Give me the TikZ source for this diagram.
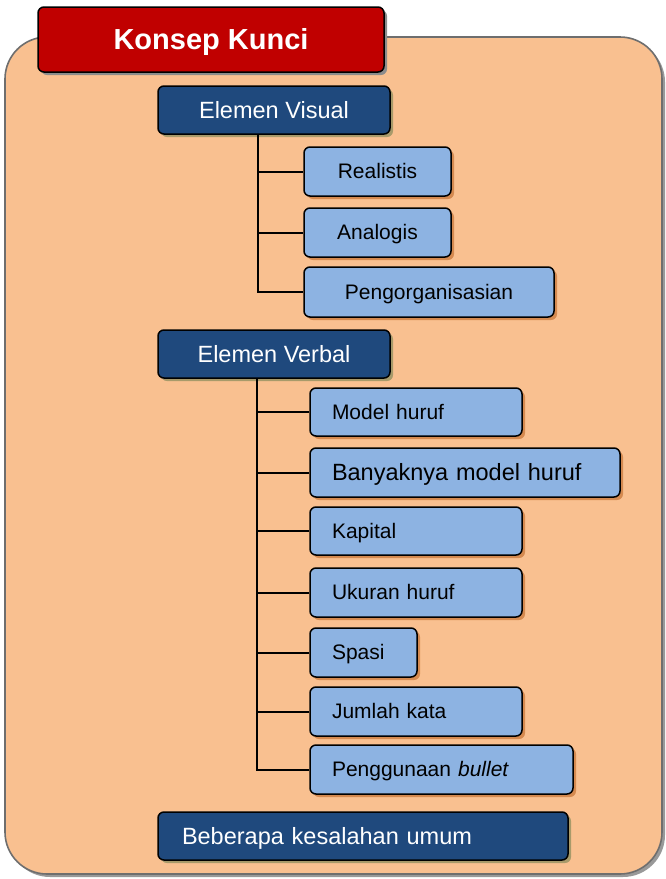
\documentclass[tikz,border=0pt]{standalone}
\usepackage{fontspec}
\setmainfont{Liberation Sans}
\usetikzlibrary{shadows}
\definecolor{panel}{HTML}{F9C090}
\definecolor{panelline}{HTML}{6E6E6E}
\definecolor{titlered}{HTML}{C00000}
\definecolor{darkblue}{HTML}{1F497D}
\definecolor{lightblue}{HTML}{8DB3E2}
\definecolor{shadowdark}{HTML}{A89A6A}
\definecolor{shadowlight}{HTML}{D58A50}
\tikzset{
  x=1pt, y=-1pt,
  basebox/.style={draw=black, line width=1.5pt, rounded corners=6pt, inner sep=0pt},
  % line box of a font of size #1: ascent 0.905, descent 0.212
  linebox/.style={font=\fontsize{#1}{#1}\selectfont, text height=0.905*#1, text depth=0.212*#1},
  titlebox/.style={basebox, fill=titlered, text=white, font=\fontsize{29pt}{29pt}\selectfont\bfseries,
    text height=26.2pt, text depth=6.15pt,
    drop shadow={shadow xshift=3pt, shadow yshift=-3pt, fill=black!45, opacity=1}},
  headbox/.style={basebox, fill=darkblue, text=white, linebox=23.5pt,
    drop shadow={shadow xshift=3pt, shadow yshift=-3pt, fill=shadowdark, opacity=1}},
  itembox/.style={basebox, fill=lightblue, text=black, linebox=21pt,
    drop shadow={shadow xshift=3pt, shadow yshift=-3pt, fill=shadowlight, opacity=1}},
  leftitem/.style={itembox, align=left, text width=#1-44pt, inner xsep=22pt},
  conn/.style={draw=black, line width=2pt},
}
\begin{document}
\begin{tikzpicture}
\useasboundingbox (0,0) rectangle (666,879);
% background panel
\fill[black!40, rounded corners=42pt] (8,40) rectangle (665,877);
\draw[fill=panel, draw=panelline, line width=1.6pt, rounded corners=42pt] (5,37) rectangle (662,874);

% title
\node[titlebox, minimum width=346pt, minimum height=65pt] (title) at (211,39.5) {Konsep Kunci};

% visual branch
\node[headbox, minimum width=232pt, minimum height=48pt] (ev) at (274,110) {Elemen Visual};
\node[itembox, minimum width=147pt, minimum height=49pt] (v1) at (377.5,171.5) {Realistis};
\node[itembox, minimum width=147pt, minimum height=49pt] (v2) at (377.5,232.5) {Analogis};
\node[itembox, minimum width=250pt, minimum height=50pt] (v3) at (429,292) {Pengorganisasian};
\foreach \c in {v1,v2,v3}
  \draw[conn] ([xshift=101pt]ev.south west) |- (\c.west);

% verbal branch
\node[headbox, minimum width=232pt, minimum height=48pt] (eb) at (274,354) {Elemen Verbal};
\node[leftitem=212pt, minimum height=48pt] (b1) at (416,412) {Model huruf};
\node[leftitem=310pt, minimum height=49pt, linebox=23.5pt] (b2) at (465,472.5) {Banyaknya model huruf};
\node[leftitem=212pt, minimum height=48pt] (b3) at (416,531) {Kapital};
\node[leftitem=212pt, minimum height=49pt] (b4) at (416,592.5) {Ukuran huruf};
\node[leftitem=107pt, minimum height=49pt] (b5) at (363.5,652.5) {Spasi};
\node[leftitem=212pt, minimum height=49pt] (b6) at (416,711.5) {Jumlah kata};
\node[leftitem=263pt, minimum height=49pt] (b7) at (441.5,769.5) {Penggunaan \textit{bullet}};
\foreach \c in {b1,b2,b3,b4,b5,b6,b7}
  \draw[conn] ([xshift=100pt]eb.south west) |- (\c.west);

% common mistakes
\node[headbox, minimum height=48pt, align=left, text width=362pt, inner xsep=24pt] (km) at (363,836) {Beberapa kesalahan umum};
\end{tikzpicture}
\end{document}
